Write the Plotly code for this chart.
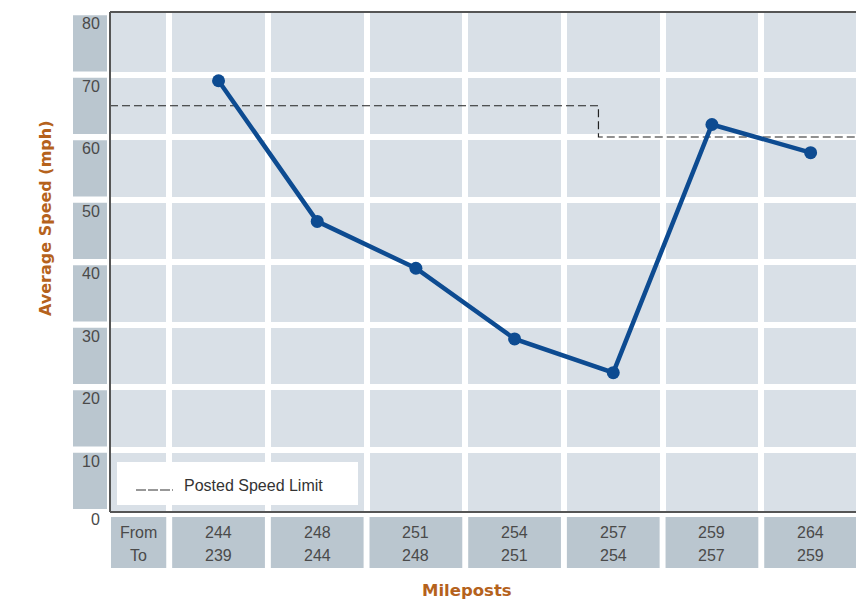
import plotly.graph_objects as go

# ---- data ----
segments = [1, 2, 3, 4, 5, 6, 7]
mile_from = ["244", "248", "251", "254", "257", "259", "264"]
mile_to = ["239", "244", "248", "251", "254", "257", "259"]
avg_speed = [69, 46.5, 39, 27.7, 22.3, 62, 57.5]
limit_x = [-0.1, 4.85, 4.85, 7.46]
limit_y = [65, 65, 60, 60]
y_ticks = [0, 10, 20, 30, 40, 50, 60, 70, 80]

W, H = 856, 599
L, R, T, B = 110, 0, 12, 87
PW = W - L - R
PH = H - T - B
XMIN, XMAX = -0.1, 7.46

def px_x(px):
    return (px - L) / PW

def px_y(py):
    return (H - B - py) / PH

FONT = "Liberation Sans, Arial, sans-serif"
TFONT = "DejaVu Sans, sans-serif"
BOX = "#bac6cf"
BG = "#d9e0e7"
TXT = "#4a4a4a"
ORANGE = "#b5621c"
BLUE = "#0d4b91"
FS = 16

fig = go.Figure()

fig.add_trace(go.Scatter(x=limit_x, y=limit_y, mode="lines",
                         line=dict(color="#222222", width=1.2, dash="8px,4px"),
                         hoverinfo="skip", showlegend=False))
fig.add_trace(go.Scatter(x=segments, y=avg_speed, mode="lines+markers",
                         line=dict(color=BLUE, width=4.5),
                         marker=dict(color=BLUE, size=13),
                         showlegend=False))

shapes = []
annotations = []

def txt(x, y, text, xref="paper", yref="paper", xanchor="center", yanchor="middle",
        size=FS, color=TXT, family=FONT, angle=0):
    annotations.append(dict(xref=xref, yref=yref, x=x, y=y, text=text, showarrow=False,
                            xanchor=xanchor, yanchor=yanchor, textangle=angle,
                            font=dict(family=family, size=size, color=color)))

# y-axis label boxes
for v in y_ticks[1:]:
    shapes.append(dict(type="rect", xref="paper", yref="y",
                       x0=px_x(73), x1=px_x(107), y0=v - 9.5, y1=v - 0.5,
                       fillcolor=BOX, line=dict(width=0), layer="below"))
for v in y_ticks:
    if v == 0:
        txt(px_x(102), px_y(519), str(v), xanchor="right", yanchor="middle")
    else:
        txt(px_x(102), v - 0.2, str(v), yref="y", xanchor="right", yanchor="top")

# table cells below the axis
shapes.append(dict(type="rect", xref="x", yref="paper", x0=-0.09, x1=0.47,
                   y0=px_y(568), y1=px_y(517), fillcolor=BOX, line=dict(width=0)))
txt(0.19, px_y(532), "From", xref="x")
txt(0.19, px_y(555), "To", xref="x")
for i, f, t in zip(segments, mile_from, mile_to):
    shapes.append(dict(type="rect", xref="x", yref="paper", x0=i - 0.47, x1=i + 0.47,
                       y0=px_y(568), y1=px_y(517), fillcolor=BOX, line=dict(width=0)))
    txt(i, px_y(532), f, xref="x")
    txt(i, px_y(555), t, xref="x")

# legend box
shapes.append(dict(type="rect", xref="paper", yref="paper", x0=px_x(117), x1=px_x(358),
                   y0=px_y(505), y1=px_y(462), fillcolor="white", line=dict(width=0)))
shapes.append(dict(type="line", xref="paper", yref="paper", x0=px_x(136), x1=px_x(173),
                   y0=px_y(490), y1=px_y(490), line=dict(color="#333333", width=1.2, dash="10px,2px")))
txt(px_x(182), px_y(485), "Posted Speed Limit", xanchor="left", size=16, color="#333333")

# border lines (left, top, bottom)
for (x0, y0, x1, y1) in [(0, 0, 0, 1), (0, 1, 1, 1), (0, 0, 1, 0)]:
    shapes.append(dict(type="line", xref="paper", yref="paper", x0=x0, y0=y0, x1=x1, y1=y1,
                       line=dict(color="#555555", width=2)))

# axis titles
txt(px_x(45), px_y(218), "<b>Average Speed (mph)</b>", angle=-90, size=16,
    color=ORANGE, family=TFONT)
txt(px_x(467), px_y(590), "<b>Mileposts</b>", size=16.5, color=ORANGE, family=TFONT)

fig.update_layout(
    width=W, height=H,
    margin=dict(l=L, r=R, t=T, b=B),
    paper_bgcolor="white", plot_bgcolor=BG,
    xaxis=dict(range=[XMIN, XMAX], tickvals=[0.5 + k for k in range(8)],
               showticklabels=False, showgrid=True, gridcolor="white", gridwidth=6,
               zeroline=False, showline=False, fixedrange=True),
    yaxis=dict(range=[0, 80], tickvals=y_ticks[1:-1], showticklabels=False,
               showgrid=True, gridcolor="white", gridwidth=6,
               zeroline=False, showline=False, fixedrange=True),
    shapes=shapes, annotations=annotations,
    showlegend=False,
)

fig.write_html("out.html", config={"displayModeBar": False},
               post_script="document.body.style.margin='0';")
